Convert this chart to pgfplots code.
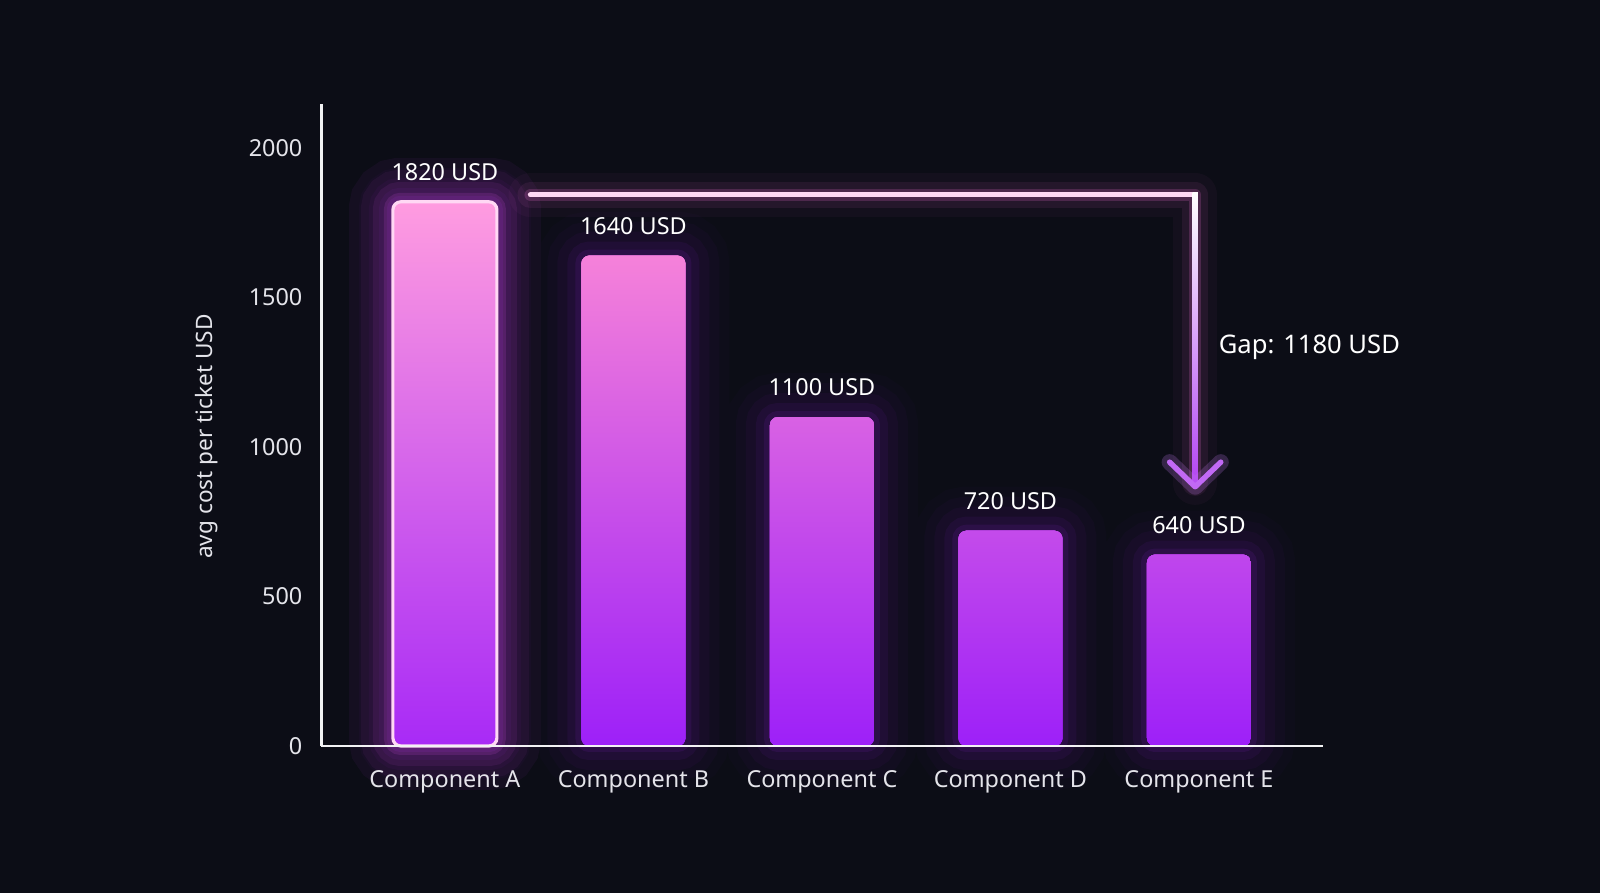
\documentclass[border=0pt]{standalone}
\usepackage{fontspec}
\setmainfont{Noto Sans}
\usepackage{pgfplots}
\pgfplotsset{compat=1.18}
\usepackage{pgfplotstable}

\definecolor{bg}{HTML}{0C0D16}
\definecolor{axiscol}{HTML}{F2F2F4}
\definecolor{ticktext}{HTML}{E4E4EA}
\definecolor{barTop}{HTML}{FF8CD6}
\definecolor{barBot}{HTML}{9D20F8}
\definecolor{hiTop}{HTML}{FF9CE0}
\definecolor{hiBot}{HTML}{A82AF6}
\definecolor{hiEdge}{HTML}{FFD8F4}
\definecolor{glowPurple}{HTML}{8A1FD0}
\definecolor{glowPink}{HTML}{D04CE0}
\definecolor{arrowPink}{HTML}{F070D4}
\definecolor{arrowPurple}{HTML}{B244F2}

% avg cost per ticket (USD)
\pgfplotstableread{
x y
0 1820
1 1640
2 1100
3 720
4 640
}\costs

\begin{document}
\begin{tikzpicture}
\fill[bg] (0,0) rectangle (800pt,446.5pt);
\begin{axis}[
  at={(160.7pt,73.5pt)}, anchor=south west,
  scale only axis, width=501pt, height=321pt,
  xmin=-0.655, xmax=4.66, ymin=0, ymax=2147,
  axis lines=left,
  axis line style={-, draw=axiscol, line width=1.3pt},
  axis on top, clip=false,
  xtick={0,1,2,3,4},
  xticklabels={Component A,Component B,Component C,Component D,Component E},
  ytick={0,500,1000,1500,2000},
  major tick length=0pt,
  tick label style={font=\fontsize{11.7}{14}\selectfont, text=ticktext},
  yticklabel style={xshift=-6pt},
  xticklabel style={yshift=-8.5pt},
  /pgf/number format/1000 sep={},
  /pgf/number format/assume math mode=true,
  ylabel={avg cost per ticket USD},
  ylabel style={at={(axis description cs:-0.115,0.482)}, anchor=center,
    font=\fontsize{11.3}{13}\selectfont, text=ticktext},
]
% bars with glow
\addplot[ybar, bar width=52pt, bar shift=0pt, draw=none,
  top color=barTop, bottom color=barBot, rounded corners=4pt,
  preaction={draw=glowPurple, line width=44pt, draw opacity=0.025},
  preaction={draw=glowPurple, line width=34pt, draw opacity=0.035},
  preaction={draw=glowPurple, line width=24pt, draw opacity=0.05},
  preaction={draw=glowPurple, line width=14pt, draw opacity=0.08},
  preaction={draw=glowPurple, line width=6pt, draw opacity=0.12}]
  table[x=x, y=y] {\costs};
% highlighted first bar
\addplot[ybar, bar width=52pt, bar shift=0pt, draw=hiEdge, line width=1.6pt,
  top color=hiTop, bottom color=hiBot, rounded corners=4pt,
  restrict x to domain=-0.5:0.5,
  preaction={draw=glowPink, line width=44pt, draw opacity=0.04},
  preaction={draw=glowPink, line width=32pt, draw opacity=0.06},
  preaction={draw=glowPink, line width=20pt, draw opacity=0.09},
  preaction={draw=glowPink, line width=9pt, draw opacity=0.16}]
  table[x=x, y=y] {\costs};
% value labels
\addplot[draw=none, mark=none,
  nodes near coords={\pgfmathprintnumber{\pgfplotspointmeta}\ USD},
  nodes near coords style={font=\fontsize{11.7}{14}\selectfont, text=white, anchor=south, yshift=7pt}]
  table[x=x, y=y] {\costs};

% gap arrow
\draw[arrowPink, line width=22pt, opacity=0.04, line join=round, line cap=round]
  (axis cs:0.454,1843) -- (axis cs:3.98,1843) -- (axis cs:3.98,880);
\draw[arrowPink, line width=13pt, opacity=0.08, line join=round, line cap=round]
  (axis cs:0.454,1843) -- (axis cs:3.98,1843) -- (axis cs:3.98,880);
\draw[arrowPink, line width=6pt, opacity=0.2, line join=round, line cap=round]
  (axis cs:0.454,1843) -- (axis cs:3.98,1843) -- (axis cs:3.98,880);
\draw[hiEdge, line width=2.6pt, line cap=round]
  (axis cs:0.454,1843) -- (axis cs:3.98,1843);
\shade[top color=white, middle color=arrowPink, bottom color=arrowPurple]
  ([xshift=-1.3pt, yshift=1.3pt]axis cs:3.98,1843) rectangle ([xshift=1.3pt]axis cs:3.98,875);
\draw[arrowPurple!70!white, line width=8pt, opacity=0.22, line cap=round, line join=round]
  ([xshift=-12.8pt, yshift=12.3pt]axis cs:3.98,867) -- (axis cs:3.98,867) -- ([xshift=12.8pt, yshift=12.3pt]axis cs:3.98,867);
\draw[arrowPurple!80!white, line width=2.7pt, line cap=round, line join=round]
  ([xshift=-12.8pt, yshift=12.3pt]axis cs:3.98,867) -- (axis cs:3.98,867) -- ([xshift=12.8pt, yshift=12.3pt]axis cs:3.98,867);
\node[anchor=west, text=white, font=\fontsize{12.8}{15}\selectfont, inner sep=0pt]
  at (axis cs:4.103,1334) {Gap: 1180 USD};
\end{axis}
\end{tikzpicture}
\end{document}
